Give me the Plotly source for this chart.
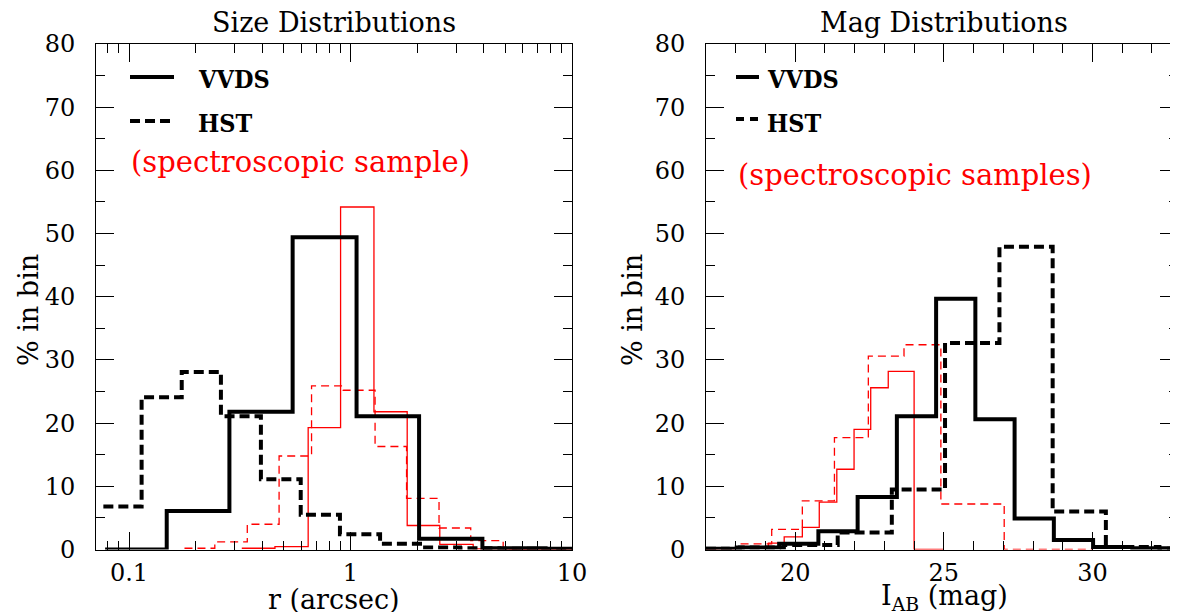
import plotly.graph_objects as go

# ---------------- data ----------------
# Left panel: size distributions, r (arcsec) bin edges and % in bin
vvds_size_edges = [0.078, 0.148, 0.284, 0.548, 1.065, 2.04, 3.94, 7.6, 10.0]
vvds_size_pct = [0.0, 6.1, 21.8, 49.4, 21.1, 1.7, 0.2, 0.1]

hst_size_edges = [0.0766, 0.114, 0.173, 0.260, 0.394, 0.596, 0.896, 1.36, 2.06, 3.12, 4.7, 7.1, 10.0]
hst_size_pct = [6.8, 24.1, 28.1, 21.1, 11.1, 5.5, 2.4, 0.9, 0.3, 0.2, 0.1, 0.0]

vvds_spec_size_edges = [0.323, 0.456, 0.644, 0.902, 1.276, 1.803, 2.53, 3.58, 5.06, 10.0]
vvds_spec_size_pct = [0.2, 0.45, 19.3, 54.2, 21.8, 3.8, 0.8, 0.1, 0.0]

hst_spec_size_edges = [0.178, 0.244, 0.342, 0.476, 0.667, 0.927, 1.291, 1.791, 2.51, 3.49, 4.89, 6.8]
hst_spec_size_pct = [0.2, 1.2, 4.0, 14.8, 25.9, 25.2, 16.3, 8.1, 3.4, 1.4, 0.1]

# Right panel: magnitude distributions, I_AB bin edges and % in bin
vvds_mag_edges = [17.0, 18.14, 19.46, 20.78, 22.10, 23.42, 24.74, 26.06, 27.38, 28.70, 30.02, 31.34, 32.9]
vvds_mag_pct = [0.1, 0.3, 0.9, 2.9, 8.3, 21.1, 39.7, 20.6, 4.9, 1.5, 0.4, 0.2]

hst_mag_edges = [17.0, 17.8, 19.62, 21.43, 23.25, 25.04, 26.87, 28.66, 30.45, 32.25, 32.9]
hst_mag_pct = [0.1, 0.3, 0.7, 2.7, 9.5, 32.7, 47.9, 6.0, 0.4, 0.1]

vvds_spec_mag_edges = [17.0, 17.36, 17.94, 18.52, 19.10, 19.63, 20.24, 20.81, 21.40, 21.98, 22.54, 23.13, 24.0, 25.0]
vvds_spec_mag_pct = [0.05, 0.1, 0.2, 0.4, 1.0, 2.0, 3.5, 7.5, 12.7, 19.0, 25.6, 28.2, 0.0]

hst_spec_mag_edges = [17.0, 18.1, 19.21, 20.24, 21.32, 22.46, 23.66, 24.9, 27.03, 30.0]
hst_spec_mag_pct = [0.2, 0.9, 3.2, 7.7, 17.7, 30.6, 32.4, 7.2, 0.0]

size_ticks = [0.1, 1, 10]
size_tick_text = ["0.1", "1", "10"]

# ---------------- figure ----------------
# The page body has an 8px default margin, so the figure is drawn 8px in from
# the window's corner; all screen positions below are converted accordingly.
OFF = 8
W, H = 1178 - OFF, 612 - OFF
SERIF = "DejaVu Serif"
BLACK_W, RED_W = 4, 1.3
BLACK_DASH, RED_DASH = "10px,5px", "8px,5px"


def sx(p):
    return (p - OFF) / W


def sy(p):
    return 1 - (p - OFF) / H


def step(edges, vals, xa, ya, color, width, dash):
    return go.Scatter(
        x=list(edges), y=list(vals) + [vals[-1]],
        mode="lines", line=dict(color=color, width=width, dash=dash, shape="hv"),
        xaxis=xa, yaxis=ya, showlegend=False, hoverinfo="skip",
    )


fig = go.Figure()
# left panel
fig.add_trace(step(hst_spec_size_edges, hst_spec_size_pct, "x", "y", "red", RED_W, RED_DASH))
fig.add_trace(step(vvds_spec_size_edges, vvds_spec_size_pct, "x", "y", "red", RED_W, "solid"))
fig.add_trace(step(hst_size_edges, hst_size_pct, "x", "y", "black", BLACK_W, BLACK_DASH))
fig.add_trace(step(vvds_size_edges, vvds_size_pct, "x", "y", "black", BLACK_W, "solid"))
# right panel
fig.add_trace(step(hst_spec_mag_edges, hst_spec_mag_pct, "x2", "y2", "red", RED_W, RED_DASH))
fig.add_trace(step(vvds_spec_mag_edges, vvds_spec_mag_pct, "x2", "y2", "red", RED_W, "solid"))
fig.add_trace(step(hst_mag_edges, hst_mag_pct, "x2", "y2", "black", BLACK_W, BLACK_DASH))
fig.add_trace(step(vvds_mag_edges, vvds_mag_pct, "x2", "y2", "black", BLACK_W, "solid"))
# empty trace so the right-hand tick-only axis is rendered
fig.add_trace(go.Scatter(x=[], y=[], xaxis="x2", yaxis="y3", showlegend=False))

# geometry (screen pixels)
L_X0, L_X1 = 96, 572
R_X0, R_X1 = 706, 1178
Y_TOP, Y_BOT = 44, 549.5
ydom = [sy(Y_BOT), sy(Y_TOP)]

tickfont = dict(family=SERIF, size=24, color="black")
common = dict(showgrid=False, zeroline=False, showline=True, linecolor="black",
              linewidth=1, ticks="inside", ticklen=18, tickwidth=1, tickcolor="black",
              tickfont=tickfont, automargin=False)
minor_y = dict(ticks="inside", ticklen=9, tickcolor="black", dtick=5, showgrid=False)

fig.update_layout(
    width=W, height=H, margin=dict(l=0, r=0, t=0, b=0, pad=0, autoexpand=False),
    paper_bgcolor="white", plot_bgcolor="white",
    showlegend=False,
    font=dict(family=SERIF, color="black"),
    xaxis=dict(**common, type="log", domain=[sx(L_X0), sx(L_X1)], range=[-1.149, 1.0],
               tickmode="array", tickvals=size_ticks, ticktext=size_tick_text,
               mirror="ticks", anchor="y", ticklabelstandoff=2,
               minor=dict(ticks="inside", ticklen=9, tickcolor="black", dtick="D1", showgrid=False)),
    yaxis=dict(**common, domain=ydom, range=[0, 80], dtick=10, tick0=0,
               mirror="ticks", anchor="x", ticklabelstandoff=15, minor=minor_y),
    xaxis2=dict(**common, domain=[sx(R_X0), sx(R_X1)], range=[17, 32.876], dtick=5, tick0=0,
                mirror="ticks", anchor="y2", ticklabelstandoff=2,
                minor=dict(ticks="inside", ticklen=9, tickcolor="black", dtick=1, showgrid=False)),
    yaxis2=dict(**common, domain=ydom, range=[0, 80], dtick=10, tick0=0,
                mirror=False, anchor="x2", ticklabelstandoff=15, minor=minor_y),
    yaxis3=dict(showgrid=False, zeroline=False, showline=False, overlaying="y2", anchor="x2",
                side="right", range=[0, 80], dtick=10, tick0=0, ticks="inside", ticklen=18,
                tickcolor="black", showticklabels=False, automargin=False, minor=minor_y),
)

ann = []
# panel titles
ttl = dict(family=SERIF, size=27, color="black")
ann.append(dict(text="Size Distributions", x=sx((L_X0 + L_X1) / 2), y=sy(23), font=ttl))
ann.append(dict(text="Mag Distributions", x=sx(944), y=sy(23), font=ttl))
# axis titles
axt = dict(family=SERIF, size=27, color="black")
ann.append(dict(text="r (arcsec)", x=sx(334), y=sy(599), font=axt))
ann.append(dict(text="I<sub>AB</sub> (mag)", x=sx(944), y=sy(597), font=axt))
ann.append(dict(text="% in bin", x=sx(28), y=sy(310), textangle=-90, font=axt))
ann.append(dict(text="% in bin", x=sx(632), y=sy(310), textangle=-90, font=axt))
# legend texts
bold = dict(family="DejaVu Serif Condensed", size=25, color="black", weight="bold")
ann.append(dict(text="<b>VVDS</b>", x=sx(196), y=sy(80), xanchor="left", font=bold))
ann.append(dict(text="<b>HST</b>", x=sx(196), y=sy(124), xanchor="left", font=bold))
red = dict(family=SERIF, size=29, color="red")
ann.append(dict(text="(spectroscopic sample)", x=sx(129), y=sy(162), xanchor="left", font=red))
ann.append(dict(text="<b>VVDS</b>", x=sx(765), y=sy(80), xanchor="left", font=bold))
ann.append(dict(text="<b>HST</b>", x=sx(765), y=sy(123), xanchor="left", font=bold))
ann.append(dict(text="(spectroscopic samples)", x=sx(736), y=sy(175), xanchor="left", font=red))
for a in ann:
    a.update(xref="paper", yref="paper", showarrow=False)
    a.setdefault("xanchor", "center")
    a["yanchor"] = "middle"
fig.update_layout(annotations=ann)

# legend line samples (in axis-domain coordinates)
def dom_x(p, x0, x1):
    return (p - x0) / (x1 - x0)


def dom_y(p):
    return (Y_BOT - p) / (Y_BOT - Y_TOP)


shapes = [
    dict(type="line", xref="x domain", yref="y domain", x0=dom_x(130, L_X0, L_X1), x1=dom_x(174, L_X0, L_X1),
         y0=dom_y(77), y1=dom_y(77), line=dict(color="black", width=BLACK_W)),
    dict(type="line", xref="x domain", yref="y domain", x0=dom_x(130, L_X0, L_X1), x1=dom_x(174, L_X0, L_X1),
         y0=dom_y(121), y1=dom_y(121), line=dict(color="black", width=BLACK_W, dash="10px,5px")),
    dict(type="line", xref="x2 domain", yref="y2 domain", x0=dom_x(736, R_X0, R_X1), x1=dom_x(759, R_X0, R_X1),
         y0=dom_y(77), y1=dom_y(77), line=dict(color="black", width=BLACK_W)),
    dict(type="line", xref="x2 domain", yref="y2 domain", x0=dom_x(736, R_X0, R_X1), x1=dom_x(759, R_X0, R_X1),
         y0=dom_y(119), y1=dom_y(119), line=dict(color="black", width=BLACK_W, dash="8px,6px")),
]
fig.update_layout(shapes=shapes)

fig.write_html("out.html")
